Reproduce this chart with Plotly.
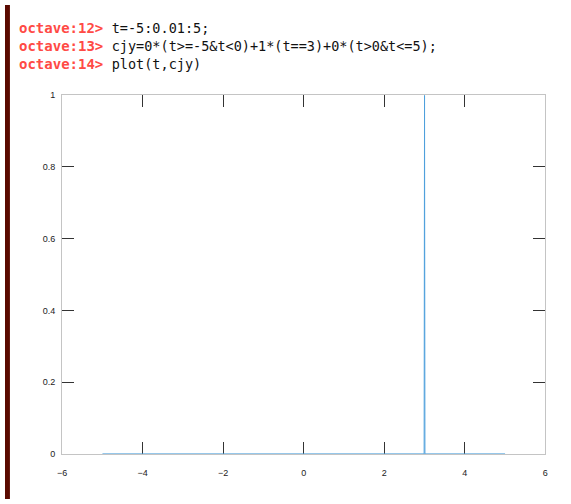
import plotly.graph_objects as go

# data
t_vals = [-5, 2.99, 3, 3.01, 5]
cjy_vals = [0, 0, 1, 0, 0]
x_ticks = [-6, -4, -2, 0, 2, 4, 6]
y_ticks = [0, 0.2, 0.4, 0.6, 0.8, 1]
y_tick_text = ["0", "0.2", "0.4", "0.6", "0.8", "1"]
prompts = ["octave:12>", "octave:13>", "octave:14>"]
commands = ["t=-5:0.01:5;",
            "cjy=0*(t&gt;=-5&amp;t&lt;0)+1*(t==3)+0*(t&gt;0&amp;t&lt;=5);",
            "plot(t,cjy)"]

W, H = 571, 504
fig = go.Figure()
fig.add_trace(go.Scatter(x=t_vals, y=cjy_vals, mode="lines",
                         line=dict(color="#4fa0dc", width=1),
                         cliponaxis=False, showlegend=False, hoverinfo="skip"))

axis_common = dict(showline=True, linecolor="#c4c4c4", linewidth=1, mirror="allticks",
                   ticks="inside", ticklen=12, tickwidth=1, tickcolor="#333333",
                   showgrid=False, zeroline=False, layer="below traces",
                   tickfont=dict(family="Liberation Sans, Arial", size=9, color="#222222"))

fig.update_layout(
    width=W, height=H, margin=dict(l=0, r=0, t=0, b=0),
    paper_bgcolor="white", plot_bgcolor="white",
    xaxis=dict(range=[-6, 6], tickvals=x_ticks, domain=[58 / W, 548 / W],
               ticklabelstandoff=10, **axis_common),
    yaxis=dict(range=[0, 1], tickvals=y_ticks, ticktext=y_tick_text,
               domain=[46 / H, 412 / H], ticklabelstandoff=4, **axis_common),
    shapes=[dict(type="rect", xref="paper", yref="paper", x0=0, x1=5 / W, y0=0, y1=1,
                 fillcolor="#5a0a00", line=dict(width=0), layer="above")],
)

ys = [23, 42, 60]
for p, c, yy in zip(prompts, commands, ys):
    fig.add_annotation(xref="paper", yref="paper", x=12 / W, y=1 - yy / H,
                       xanchor="left", yanchor="middle", showarrow=False,
                       text=f"<b><span style='color:#ff4a45'>{p}</span></b> "
                            f"<span style='color:#111111;font-size:13.5px'>{c}</span>",
                       font=dict(family="DejaVu Sans Mono", size=14))

fig.write_html("out.html", config={"displayModeBar": False},
               post_script="document.body.style.margin='0';"
                           "document.body.style.padding='0';"
                           "document.documentElement.style.overflow='hidden';"
                           "var gd=document.getElementById('{plot_id}');"
                           "gd.style.position='fixed';gd.style.left='0px';gd.style.top='0px';")
